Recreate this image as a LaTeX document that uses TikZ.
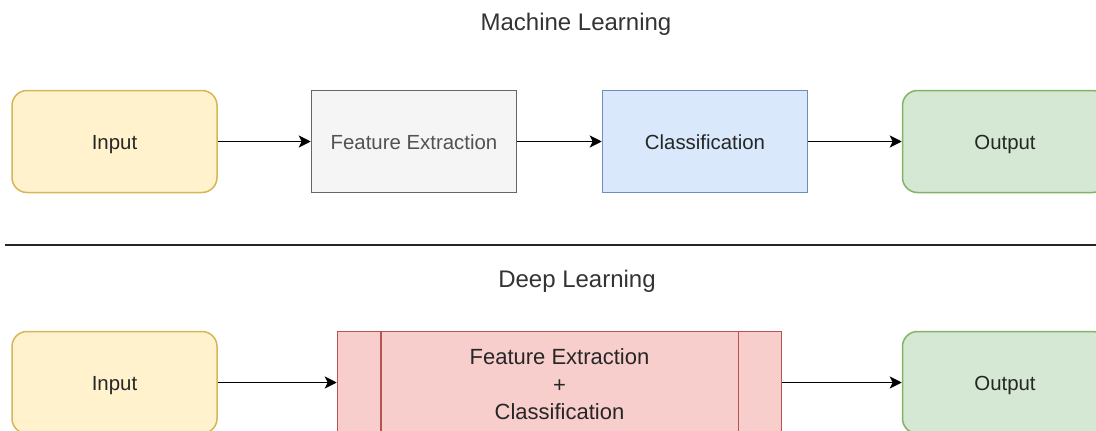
\documentclass[tikz,border=0pt]{standalone}
\usepackage{fontspec}
\setmainfont{Liberation Sans}
\usepackage{xcolor}
\usepackage{tikz}
\usetikzlibrary{positioning,arrows.meta,calc}

\definecolor{inputFill}{HTML}{FFF2CC}
\definecolor{inputLine}{HTML}{D6B656}
\definecolor{featFill}{HTML}{F5F5F5}
\definecolor{featLine}{HTML}{666666}
\definecolor{classFill}{HTML}{DAE8FC}
\definecolor{classLine}{HTML}{6C8EBF}
\definecolor{outFill}{HTML}{D5E8D4}
\definecolor{outLine}{HTML}{82B366}
\definecolor{deepFill}{HTML}{F8CECC}
\definecolor{deepLine}{HTML}{B85450}

\begin{document}
\begin{tikzpicture}[
  x=1pt, y=-1pt,
  stageBox/.style={draw, line width=1.5pt, minimum width=205pt,
                   minimum height=102pt, inner sep=0pt, text=black!85,
                   text height=18pt, text depth=2pt,
                   font=\fontsize{20.4}{24}\selectfont},
  endBox/.style={stageBox, rounded corners=15pt},
  titleText/.style={font=\fontsize{24}{28}\selectfont, text=black!80},
  flow/.style={->, line width=1.8pt},
  >={Stealth[length=12pt,width=12pt,inset=3pt]}
]
  \useasboundingbox (0,0) rectangle (1096,431);
  \clip (0,0) rectangle (1096,431);

  % Machine learning row
  \node[titleText] (mlTitle) at (576,24) {Machine Learning};
  \node[endBox, fill=inputFill, draw=inputLine] (inTop) at (114.5,141.5) {Input};
  \node[stageBox, fill=featFill, draw=featLine, text=featLine!80!black]
    (featTop) at (414,141.5) {Feature Extraction};
  \node[stageBox, fill=classFill, draw=classLine] (classTop) at (705,141.5)
    {Classification};
  \node[endBox, fill=outFill, draw=outLine] (outTop) at (1005,141.5) {Output};
  \foreach \a/\b in {inTop/featTop, featTop/classTop, classTop/outTop}
    \draw[flow] (\a) -- (\b);

  % Separator
  \coordinate (sepL) at (5,245);
  \coordinate (sepR) at (1100,245);
  \draw[line width=1.8pt, black!85] (sepL) -- (sepR);

  % Deep learning row
  \node[titleText] (dlTitle) at (577,281) {Deep Learning};
  \node[endBox, fill=inputFill, draw=inputLine] (inBot) at (114.5,382.5) {Input};
  \node[draw=deepLine, fill=deepFill, line width=1.5pt, minimum width=444pt,
        minimum height=102pt, inner sep=0pt, align=center, text=black!85,
        font=\fontsize{22}{27.5}\selectfont]
    (deepBox) at (559.5,382.5)
    {\rule{0pt}{19.5pt}Feature Extraction\\+\\Classification};
  \draw[deepLine, line width=1.5pt]
    ($(deepBox.north west)+(44,0)$) -- ($(deepBox.south west)+(44,0)$)
    ($(deepBox.north east)+(-44,0)$) -- ($(deepBox.south east)+(-44,0)$);
  \node[endBox, fill=outFill, draw=outLine] (outBot) at (1005,382.5) {Output};
  \draw[flow] (inBot) -- (deepBox);
  \draw[flow] (deepBox) -- (outBot);
\end{tikzpicture}
\end{document}
